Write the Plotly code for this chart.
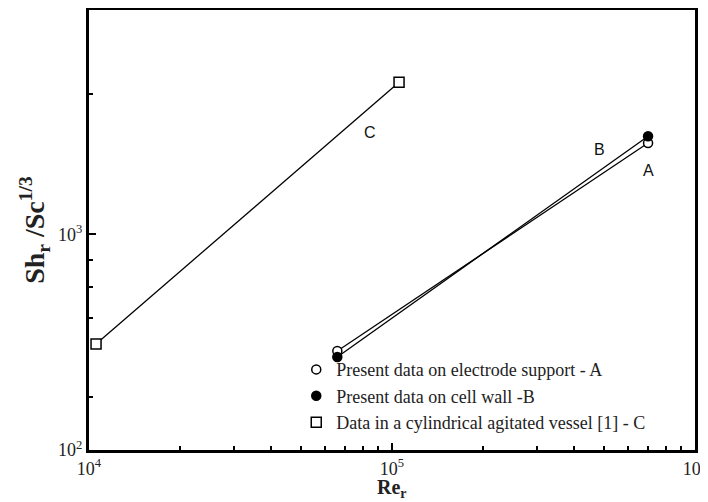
import plotly.graph_objects as go
import math

# ---- data ----
re_A = [66000, 700000]
sh_A = [288, 2650]
re_B = [66000, 700000]
sh_B = [270, 2850]
re_C = [10550, 105500]
sh_C = [310, 5070]

names = ["Present data on electrode support - A",
         "Present data on cell wall -B",
         "Data in a cylindrical agitated vessel [1] - C"]

x_ticks = [1e4, 1e5, 1e6]
x_ticktext = ["10<sup>4</sup>", "10<sup>5</sup>", "10<sup>6</sup>"]
y_ticks = [1e2, 1e3]
y_ticktext = ["10<sup>2</sup>", "10<sup>3</sup>"]
x_minor = [2e4, 3e4, 4e4, 5e4, 6e4, 7e4, 8e4, 9e4,
           2e5, 3e5, 4e5, 5e5, 6e5, 7e5, 8e5, 9e5]
y_minor = [176, 408, 568, 762, 4470]

# curve labels (text, Re, Sh)
labels = [("C", 84500, 2970), ("B", 485000, 2485), ("A", 704000, 1973)]

x_title = "<b>Re<sub>r</sub></b>"
y_title = "<b>Sh<sub>r</sub> /Sc<sup>1/3</sup></b>"

serif = "Liberation Serif, Times New Roman, serif"
sans = "Liberation Sans, Arial, sans-serif"

fig = go.Figure()
line_style = dict(color="black", width=1.3)
for xs, ys in [(re_A, sh_A), (re_B, sh_B), (re_C, sh_C)]:
    fig.add_trace(go.Scatter(x=xs, y=ys, mode="lines", line=line_style,
                             showlegend=False, hoverinfo="skip"))

fig.add_trace(go.Scatter(x=re_A, y=sh_A, mode="markers", name=names[0],
                         marker=dict(symbol="circle", size=9, color="white",
                                     line=dict(color="black", width=1.5))))
fig.add_trace(go.Scatter(x=re_B, y=sh_B, mode="markers", name=names[1],
                         marker=dict(symbol="circle", size=9, color="black",
                                     line=dict(color="black", width=1.5))))
fig.add_trace(go.Scatter(x=re_C, y=sh_C, mode="markers", name=names[2],
                         marker=dict(symbol="square", size=10, color="white",
                                     line=dict(color="black", width=1.5))))

for txt, xv, yv in labels:
    fig.add_annotation(x=math.log10(xv), y=math.log10(yv), text=txt, showarrow=False,
                       font=dict(family=sans, size=16, color="#111"))

# x-axis title placed as a paper annotation so it stays inside the figure
fig.add_annotation(xref="paper", yref="paper", x=0.5, y=-0.057,
                   xanchor="center", yanchor="top", showarrow=False,
                   borderpad=0,
                   text=x_title, font=dict(family=serif, size=20, color="#222"))

axis_common = dict(type="log", showline=True, linecolor="black", linewidth=3,
                   mirror=True, ticks="inside", ticklen=7, tickwidth=2,
                   tickcolor="black", showgrid=False, zeroline=False,
                   automargin=False,
                   tickfont=dict(family=serif, size=18, color="#222"))

fig.update_xaxes(**axis_common, range=[4, 6], tickmode="array",
                 tickvals=x_ticks, ticktext=x_ticktext,
                 minor=dict(tickmode="array", tickvals=x_minor, ticks="inside",
                            ticklen=4, tickwidth=2, tickcolor="black"))
fig.update_yaxes(**axis_common, range=[2, 4.04], tickmode="array",
                 tickvals=y_ticks, ticktext=y_ticktext,
                 minor=dict(tickmode="array", tickvals=y_minor, ticks="inside",
                            ticklen=4, tickwidth=2, tickcolor="black"),
                 title=dict(text=y_title, standoff=6,
                            font=dict(family=serif, size=28, color="#222")))

fig.update_layout(
    width=708, height=502,
    margin=dict(l=81, r=21, t=2, b=60),
    plot_bgcolor="white", paper_bgcolor="white",
    legend=dict(x=0.342, y=0.02, xanchor="left", yanchor="bottom",
                bgcolor="rgba(0,0,0,0)", borderwidth=0,
                font=dict(family=serif, size=18, color="#222"),
                tracegroupgap=0, itemwidth=30),
)

fig.write_html("out.html")
